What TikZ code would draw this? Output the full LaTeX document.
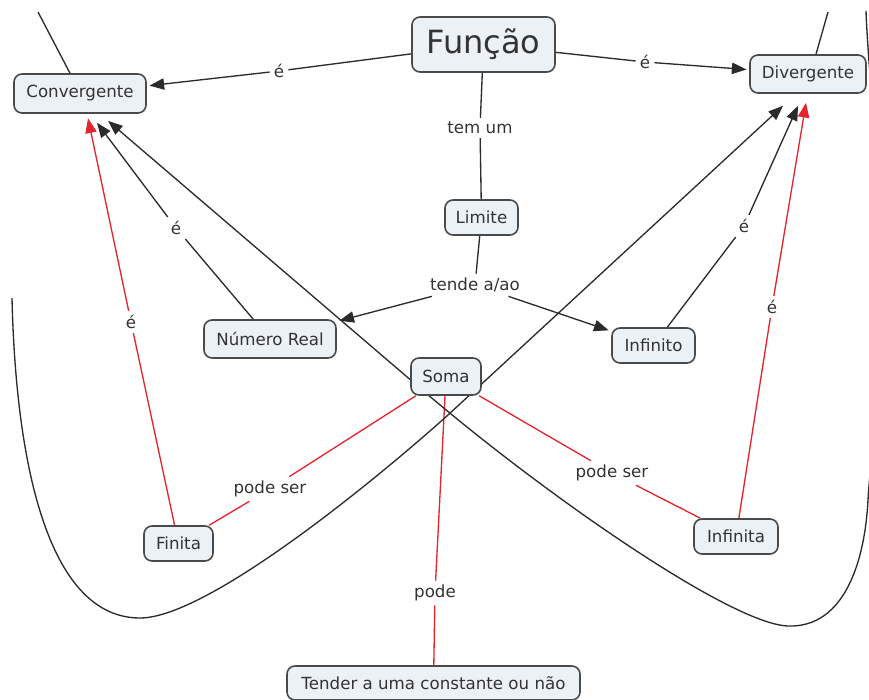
\documentclass[tikz,border=0pt]{standalone}
\usepackage{fontspec}
\setmainfont{DejaVu Sans}
\usetikzlibrary{arrows.meta,backgrounds}
\definecolor{boxfill}{HTML}{EBF1F4}
\definecolor{boxline}{HTML}{4A4A4A}
\definecolor{txt}{HTML}{333333}
\definecolor{lnkc}{HTML}{2B2B2B}
\definecolor{redc}{HTML}{E3262E}
\begin{document}
\begin{tikzpicture}[x=0.75pt,y=-0.75pt,
  concept/.style={draw=boxline,fill=boxfill,line width=1.2pt,rounded corners=6pt,text=txt,
    font=\fontsize{12.5}{15}\selectfont,inner sep=0pt,align=center},
  lbl/.style={text=txt,font=\fontsize{12.5}{15}\selectfont,inner sep=3pt},
  lnk/.style={draw=lnkc,line width=1pt},
  arr/.style={lnk,-{Triangle[length=11pt,width=8.5pt]}},
  rlnk/.style={draw=redc,line width=1pt},
  rarr/.style={rlnk,-{Triangle[length=11pt,width=8.5pt]}},
]
\useasboundingbox (0,0) rectangle (869,700);

% concepts
\node[concept,minimum width=107.25pt,minimum height=41.25pt,font=\fontsize{24}{28}\selectfont] (func) at (483.5,44.5) {Função};
\node[concept,minimum width=99pt,minimum height=29.25pt] (conv) at (80,93.5) {Convergente};
\node[concept,minimum width=87pt,minimum height=28.5pt] (div) at (808,74) {Divergente};
\node[concept,minimum width=54.75pt,minimum height=26.25pt] (lim) at (481.5,217.5) {Limite};
\node[concept,minimum width=99pt,minimum height=28.5pt] (num) at (270,339) {Número Real};
\node[concept,minimum width=62.25pt,minimum height=26.25pt] (infto) at (653.5,345.5) {Infinito};
\node[concept,minimum width=52.5pt,minimum height=27.75pt] (soma) at (446,376.5) {Soma};
\node[concept,minimum width=51.75pt,minimum height=26.25pt] (finita) at (178.5,543.5) {Finita};
\node[concept,minimum width=63pt,minimum height=26.25pt] (infta) at (736,536.5) {Infinita};
\node[concept,minimum width=219.75pt,minimum height=25.5pt] (tender) at (433.5,683) {Tender a uma constante ou não};

% link labels
\node[lbl] (e1) at (279,71) {é};
\node[lbl] (e2) at (645,62) {é};
\node[lbl] (tem) at (480,128) {tem um};
\node[lbl] (tende) at (475,285) {tende a/ao};
\node[lbl] (e3) at (176,228) {é};
\node[lbl] (e4) at (744,226) {é};
\node[lbl] (e5) at (131,322) {é};
\node[lbl] (e6) at (772,307) {é};
\node[lbl] (ps1) at (270,489) {pode ser};
\node[lbl] (ps2) at (612,473) {pode ser};
\node[lbl] (pode) at (435,593) {pode};

% free ends
\coordinate (lEnd) at (12,298);
\coordinate (tlEnd) at (38,12);
\coordinate (trEnd) at (828,12);
\coordinate (rEnd) at (866,11);

\begin{scope}[on background layer]
  \draw[lnk] (func) -- (e1);
  \draw[arr,shorten >=2pt] (e1) -- (conv);
  \draw[lnk] (func) -- (e2);
  \draw[arr,shorten >=2pt] (e2) -- (div);
  \draw[lnk] (func) -- (tem);
  \draw[lnk] (tem) -- (lim);
  \draw[lnk] (lim) -- (tende);
  \draw[arr,shorten >=2pt] (tende) -- (num);
  \draw[arr,shorten >=2pt] (tende) -- (infto);
  \draw[lnk] (num) -- (e3);
  \draw[arr] (e3) -- ([shift={(17,9)}]conv.south);
  \draw[lnk] (infto) -- (e4);
  \draw[arr] (e4) -- ([shift={(-10,12)}]div.south);
  % red links
  \draw[rlnk] (finita) -- (e5);
  \draw[rarr] (e5) -- ([shift={(8,4.5)}]conv.south);
  \draw[rlnk] (infta) -- (e6);
  \draw[rarr] (e6) -- ([shift={(-2,9)}]div.south);
  \draw[rlnk] (soma) -- (ps1);
  \draw[rlnk] (ps1) -- (finita);
  \draw[rlnk] (soma) -- (ps2);
  \draw[rlnk] (ps2) -- (infta);
  \draw[rlnk] (soma) -- (pode);
  \draw[rlnk] (pode) -- (tender);
  % long curved links
  \draw[lnk] ([xshift=-7.5pt]conv.north) -- (tlEnd);
  \draw[lnk] ([xshift=6pt]div.north) -- (trEnd);
  \draw[arr] (lEnd) .. controls (16,470) and (50,618) .. (140,618)
     .. controls (210,618) and (387,470) .. (448,415)
     -- ([shift={(-25,12)}]div.south);
  \draw[arr] (rEnd) .. controls (869,90) and (884,200) .. (882,300)
     .. controls (880,400) and (871,450) .. (868,500)
     .. controls (865,560) and (845,628) .. (788,626)
     .. controls (730,624) and (540,491) .. (420,388)
     -- ([shift={(28,7)}]conv.south);
\end{scope}
\end{tikzpicture}
\end{document}
